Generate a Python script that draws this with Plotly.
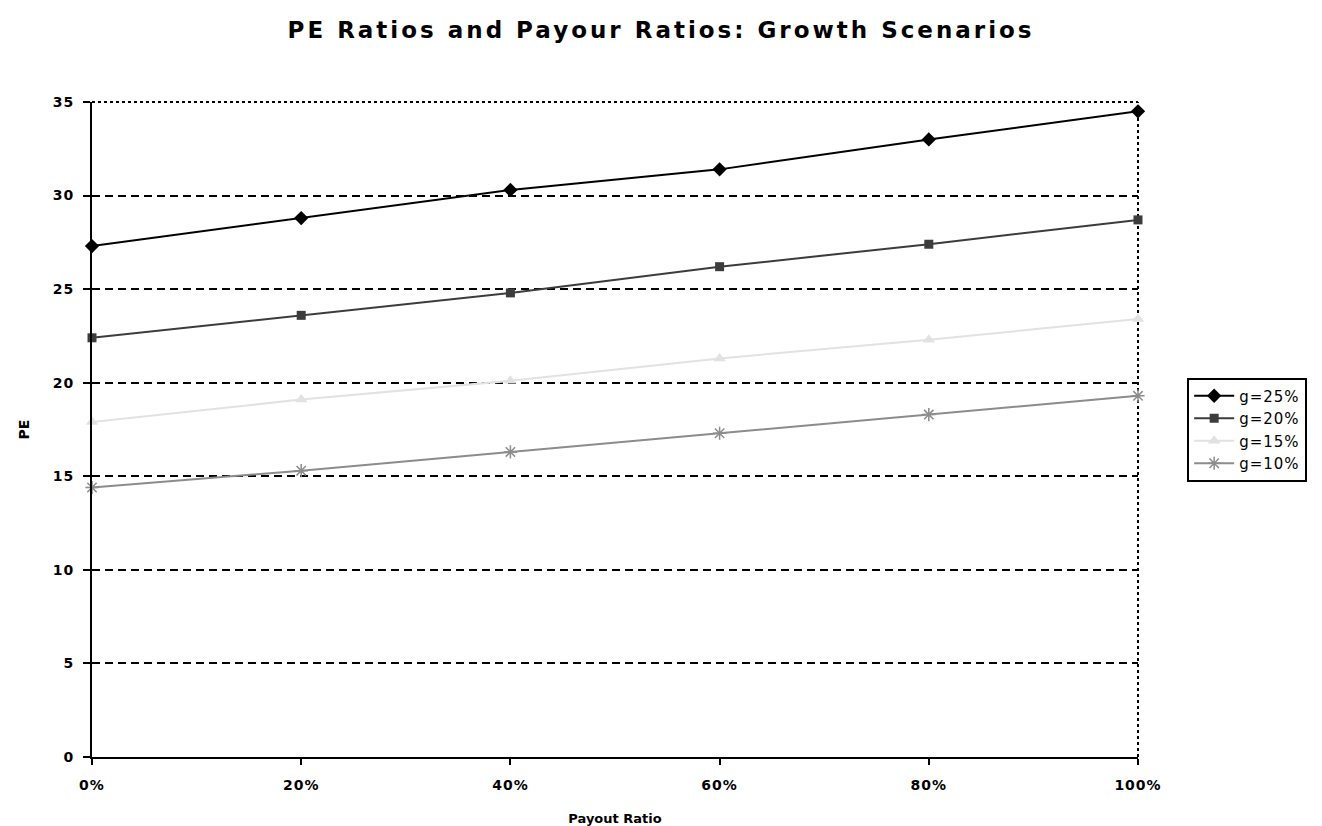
import plotly.graph_objects as go

payout = [0.0, 0.2, 0.4, 0.6, 0.8, 1.0]
tick_labels = ["0%", "20%", "40%", "60%", "80%", "100%"]
y_ticks = [0, 5, 10, 15, 20, 25, 30, 35]
series_names = ["g=25%", "g=20%", "g=15%", "g=10%"]
pe_g25 = [27.3, 28.8, 30.3, 31.4, 33.0, 34.5]
pe_g20 = [22.4, 23.6, 24.8, 26.2, 27.4, 28.7]
pe_g15 = [17.9, 19.1, 20.1, 21.3, 22.3, 23.4]
pe_g10 = [14.4, 15.3, 16.3, 17.3, 18.3, 19.3]

styles = [
    dict(color="#000000", symbol="diamond", size=11, lw=2),
    dict(color="#3c3c3c", symbol="square", size=9, lw=2),
    dict(color="#e2e2e2", symbol="triangle-up", size=11, lw=2),
    dict(color="#8c8c8c", symbol="asterisk-open", size=11, lw=2),
]


def spaced(t, px):
    return f'<span style="letter-spacing:{px}px">{t}</span>'


fig = go.Figure()
for name, vals, st in zip(series_names, [pe_g25, pe_g20, pe_g15, pe_g10], styles):
    marker = dict(symbol=st["symbol"], size=st["size"], color=st["color"])
    if "open" in st["symbol"]:
        marker["line"] = dict(color=st["color"], width=1.5)
    fig.add_trace(go.Scatter(
        x=payout, y=vals, name=spaced(name, 1), mode="lines+markers",
        line=dict(color=st["color"], width=st["lw"]),
        marker=marker, cliponaxis=False,
    ))

font_main = "DejaVu Sans, Verdana, sans-serif"

fig.update_layout(
    width=1314, height=818,
    margin=dict(l=84, r=184, t=94, b=69),
    paper_bgcolor="white", plot_bgcolor="white",
    title=dict(text="<b>" + spaced("PE Ratios and Payour Ratios: Growth Scenarios", 3) + "</b>",
               x=0.497, xanchor="center", xref="container", y=0.973, yanchor="middle",
               font=dict(family=font_main, size=23, color="black")),
    font=dict(family=font_main, size=13, color="black"),
    showlegend=True,
    legend=dict(x=1.047, xanchor="left", y=0.5, yanchor="middle",
                bordercolor="black", borderwidth=2, bgcolor="white",
                font=dict(family=font_main, size=15, color="black"),
                tracegroupgap=0, itemwidth=40),
    xaxis=dict(range=[0, 1], tickvals=payout,
               ticktext=["<b>" + spaced(t, 1) + "</b>" for t in tick_labels],
               showgrid=False, zeroline=False, showline=True, linecolor="black", linewidth=2,
               ticks="outside", ticklen=6, tickcolor="black", tickwidth=1.5,
               ticklabelstandoff=8, automargin=False,
               tickfont=dict(size=14),
               title=dict(text="<b>Payout Ratio</b>", font=dict(size=13), standoff=22)),
    yaxis=dict(range=[0, 35], tickvals=y_ticks,
               ticktext=["<b>" + spaced(v, 1) + "</b>" for v in y_ticks],
               showgrid=True, gridcolor="black", gridwidth=2, griddash="8px,5px",
               zeroline=False, showline=True, linecolor="black", linewidth=2,
               ticks="outside", ticklen=7, tickcolor="black", tickwidth=1.5,
               ticklabelstandoff=6, automargin=False,
               tickfont=dict(size=14),
               title=dict(text="<b>PE</b>", font=dict(size=14), standoff=20)),
)

# dotted top and right borders
fig.add_shape(type="line", xref="paper", yref="paper", x0=0, x1=1, y0=1, y1=1,
              line=dict(color="black", width=2, dash="dot"), layer="above")
fig.add_shape(type="line", xref="paper", yref="paper", x0=1, x1=1, y0=0, y1=1,
              line=dict(color="black", width=2, dash="dot"), layer="below")

fig.write_html("out.html")
